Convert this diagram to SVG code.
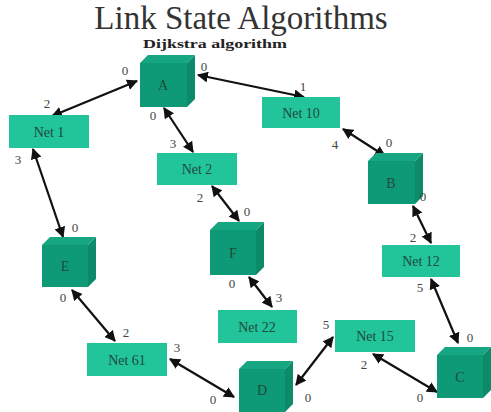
<svg xmlns="http://www.w3.org/2000/svg" width="491" height="412" viewBox="0 0 491 412">
  <style>
    .title { font-family: "Liberation Serif", "Times New Roman", serif; font-size: 33px; fill: #333; }
    .sub { font-family: "Liberation Serif", "Times New Roman", serif; font-size: 13px; font-weight: bold; fill: #222; }
    .net rect { fill: #22c49a; }
    .lbl { font-family: "Liberation Serif", "Times New Roman", serif; font-size: 14px; fill: #1f4a3c; text-anchor: middle; }
    .front { fill: #0f9a77; }
    .top { fill: #16a782; }
    .side { fill: #0c8a6a; }
    .cost { font-family: "Liberation Serif", "Times New Roman", serif; font-size: 13px; fill: #444; text-anchor: middle; }
    .link { stroke: #111; stroke-width: 2.2; fill: none; marker-start: url(#head); marker-end: url(#head); }
  </style>
  <defs>
    <marker id="head" viewBox="0 0 10 10" refX="9" refY="5" markerWidth="5" markerHeight="5" orient="auto-start-reverse" markerUnits="strokeWidth">
      <path d="M0,0 L10,5 L0,10 z" fill="#111"/>
    </marker>
  </defs>

  <text class="title" x="241" y="29" text-anchor="middle">Link State Algorithms</text>
  <text class="sub" x="215" y="48" text-anchor="middle" textLength="144" lengthAdjust="spacingAndGlyphs">Dijkstra algorithm</text>

  <!-- links -->
  <g id="links">
    <line class="link" x1="137" y1="81" x2="52" y2="116"/>
    <line class="link" x1="198" y1="75" x2="304" y2="97"/>
    <line class="link" x1="164" y1="108" x2="193" y2="152"/>
    <line class="link" x1="33" y1="149" x2="63" y2="237"/>
    <line class="link" x1="212" y1="186" x2="239" y2="221"/>
    <line class="link" x1="343" y1="129" x2="385" y2="156"/>
    <line class="link" x1="413" y1="206" x2="431" y2="243"/>
    <line class="link" x1="249" y1="277" x2="272" y2="307"/>
    <line class="link" x1="72" y1="290" x2="115" y2="341"/>
    <line class="link" x1="431" y1="279" x2="458" y2="343"/>
    <line class="link" x1="170" y1="359" x2="234" y2="397"/>
    <line class="link" x1="296" y1="385" x2="333" y2="337"/>
    <line class="link" x1="373" y1="354" x2="437" y2="392"/>
  </g>

  <!-- routers -->
  <g id="A">
    <polygon class="front" points="140,63 187,63 187,107 140,107"/>
    <polygon class="top" points="140,63 148,55 195,55 187,63"/>
    <polygon class="side" points="187,63 195,55 195,99 187,107"/>
    <text class="lbl" x="163" y="90">A</text>
  </g>
  <g id="B">
    <polygon class="front" points="368,161 415,161 415,204 368,204"/>
    <polygon class="top" points="368,161 376,153 423,153 415,161"/>
    <polygon class="side" points="415,161 423,153 423,196 415,204"/>
    <text class="lbl" x="391" y="188">B</text>
  </g>
  <g id="E">
    <polygon class="front" points="42,245 88,245 88,287 42,287"/>
    <polygon class="top" points="42,245 50,237 96,237 88,245"/>
    <polygon class="side" points="88,245 96,237 96,279 88,287"/>
    <text class="lbl" x="65" y="271">E</text>
  </g>
  <g id="F">
    <polygon class="front" points="210,230 256,230 256,275 210,275"/>
    <polygon class="top" points="210,230 218,222 264,222 256,230"/>
    <polygon class="side" points="256,230 264,222 264,267 256,275"/>
    <text class="lbl" x="233" y="258">F</text>
  </g>
  <g id="D">
    <polygon class="front" points="239,369 285,369 285,412 239,412"/>
    <polygon class="top" points="239,369 247,361 293,361 285,369"/>
    <polygon class="side" points="285,369 293,361 293,404 285,412"/>
    <text class="lbl" x="262" y="395">D</text>
  </g>
  <g id="C">
    <polygon class="front" points="437,355 483,355 483,398 437,398"/>
    <polygon class="top" points="437,355 445,347 491,347 483,355"/>
    <polygon class="side" points="483,355 491,347 491,390 483,398"/>
    <text class="lbl" x="460" y="382">C</text>
  </g>

  <!-- networks -->
  <g id="net1" class="net"><rect x="9" y="115" width="80" height="33"/><text class="lbl" x="49" y="137">Net 1</text></g>
  <g id="net10" class="net"><rect x="262" y="97" width="78" height="31"/><text class="lbl" x="301" y="118">Net 10</text></g>
  <g id="net2" class="net"><rect x="157" y="153" width="80" height="32"/><text class="lbl" x="197" y="174">Net 2</text></g>
  <g id="net12" class="net"><rect x="382" y="245" width="78" height="32"/><text class="lbl" x="421" y="266">Net 12</text></g>
  <g id="net22" class="net"><rect x="218" y="310" width="79" height="33"/><text class="lbl" x="257" y="332">Net 22</text></g>
  <g id="net15" class="net"><rect x="335" y="320" width="80" height="32"/><text class="lbl" x="375" y="341">Net 15</text></g>
  <g id="net61" class="net"><rect x="87" y="343" width="80" height="33"/><text class="lbl" x="127" y="365">Net 61</text></g>

  <!-- link costs -->
  <g id="costs">
    <text class="cost" x="125" y="75">0</text>
    <text class="cost" x="47" y="108">2</text>
    <text class="cost" x="204" y="71">0</text>
    <text class="cost" x="303" y="91">1</text>
    <text class="cost" x="153" y="120">0</text>
    <text class="cost" x="173" y="148">3</text>
    <text class="cost" x="18" y="164">3</text>
    <text class="cost" x="75" y="232">0</text>
    <text class="cost" x="200" y="202">2</text>
    <text class="cost" x="247" y="216">0</text>
    <text class="cost" x="335" y="149">4</text>
    <text class="cost" x="389" y="147">0</text>
    <text class="cost" x="423" y="201">0</text>
    <text class="cost" x="413" y="242">2</text>
    <text class="cost" x="232" y="288">0</text>
    <text class="cost" x="279" y="302">3</text>
    <text class="cost" x="63" y="302">0</text>
    <text class="cost" x="126" y="337">2</text>
    <text class="cost" x="420" y="292">5</text>
    <text class="cost" x="470" y="342">0</text>
    <text class="cost" x="177" y="352">3</text>
    <text class="cost" x="213" y="404">0</text>
    <text class="cost" x="326" y="329">5</text>
    <text class="cost" x="308" y="402">0</text>
    <text class="cost" x="364" y="369">2</text>
    <text class="cost" x="420" y="402">0</text>
  </g>
</svg>
